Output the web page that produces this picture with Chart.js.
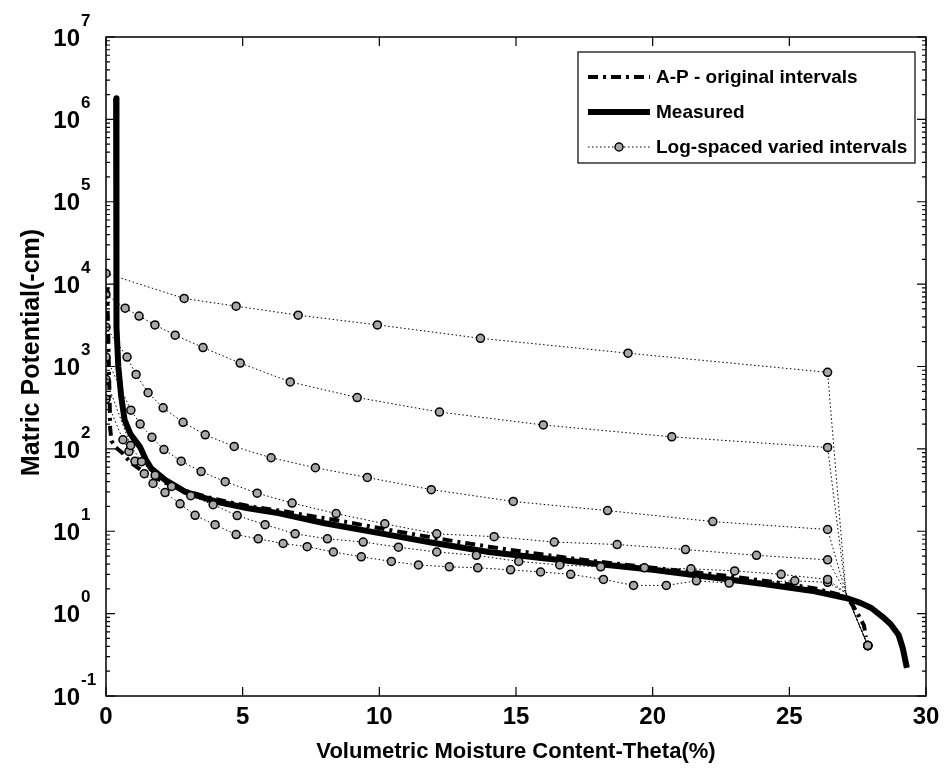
<!DOCTYPE html>
<html>
<head>
<meta charset="utf-8">
<script src="https://cdn.jsdelivr.net/npm/chart.js@4.4.1/dist/chart.umd.min.js"></script>
<style>
  html, body { margin: 0; padding: 0; background: #fff; }
  #wrap { width: 944px; height: 769px; }
</style>
</head>
<body>
<div id="wrap"><canvas id="chart" width="944" height="769"></canvas></div>
<script>
// Soil-water retention: measured curve vs. A-P predictions (log y axis).

const X_TICKS = [0, 5, 10, 15, 20, 25, 30];
const Y_EXPONENTS = [-1, 0, 1, 2, 3, 4, 5, 6, 7];

const LABEL_AP = "A-P - original intervals";
const LABEL_MEASURED = "Measured";
const LABEL_LOG = "Log-spaced varied intervals";
const X_TITLE = "Volumetric Moisture Content-Theta(%)";
const Y_TITLE = "Matric Potential(-cm)";

// [theta %, matric potential -cm]
const MEASURED = [
  [0.37, 1.8e6], [0.37, 1e5], [0.38, 1e4], [0.4, 3000], [0.45, 1000], [0.55, 450],
  [0.68, 225], [0.9, 150], [1.25, 105], [1.45, 75], [1.65, 58], [2.16, 42], [2.9, 30],
  [4.0, 23], [5.2, 19], [6.3, 16.6], [8, 12.5], [10, 9.5], [12, 7.2], [14, 5.6],
  [16, 4.7], [18, 4.0], [20, 3.4], [22, 2.8], [24, 2.3], [25.8, 1.9], [27.07, 1.55],
  [27.6, 1.35], [28, 1.17], [28.4, 0.92], [28.7, 0.75], [29.0, 0.55], [29.15, 0.38], [29.3, 0.22]
];

const AP_ORIGINAL = [
  [0.05, 9000], [0.06, 5000], [0.08, 2500], [0.1, 1200], [0.12, 600], [0.14, 300],
  [0.15, 180], [0.2, 125], [0.35, 105], [0.62, 88], [0.9, 68], [1.43, 51], [2.16, 39],
  [2.9, 31], [3.7, 26], [4.5, 22.5], [5.5, 19.5], [6.5, 17.5], [7.5, 15.3], [8.5, 13.5],
  [9.7, 11.4], [11, 9.5], [12.5, 7.8], [14, 6.5], [15.5, 5.5], [17, 4.7], [18.5, 4.1],
  [20, 3.6], [21.5, 3.2], [23, 2.8], [24.5, 2.4], [26, 2.0], [27.0, 1.65], [27.3, 1.3],
  [27.55, 0.93], [27.73, 0.72], [27.8, 0.52]
];

const LOG_1 = [[0, 13500], [2.86, 6700], [4.76, 5400], [7.03, 4200], [9.93, 3200],
  [13.7, 2200], [19.1, 1450], [26.4, 850]];
const LOG_2 = [[0, 7500], [0.7, 5100], [1.21, 4100], [1.79, 3200], [2.53, 2400],
  [3.55, 1700], [4.91, 1100], [6.74, 650], [9.19, 420], [12.2, 280], [16.0, 195],
  [20.7, 140], [26.4, 104]];
const LOG_3 = [[0, 3000], [0.77, 1300], [1.1, 800], [1.54, 480], [2.09, 315], [2.82, 210],
  [3.63, 148], [4.69, 107], [6.04, 78], [7.66, 59], [9.56, 45], [11.9, 32], [14.9, 23],
  [18.35, 17.8], [22.2, 13.1], [26.4, 10.5]];
const LOG_4 = [[0, 1300], [0.91, 295], [1.25, 200], [1.68, 138], [2.12, 98], [2.75, 71],
  [3.48, 53], [4.36, 40], [5.53, 29], [6.81, 22], [8.42, 16.4], [10.2, 12.3], [12.1, 9.3],
  [14.2, 8.6], [16.4, 7.4], [18.7, 6.9], [21.2, 6.0], [23.8, 5.1], [26.4, 4.5]];
const LOG_5 = [[0, 700], [0.9, 110], [1.3, 70], [1.8, 48], [2.4, 35], [3.1, 27], [3.92, 21],
  [4.8, 15.5], [5.82, 12.0], [6.92, 9.3], [8.1, 8.1], [9.41, 7.4], [10.7, 6.4], [12.1, 5.6],
  [13.55, 5.1], [15.1, 4.3], [16.6, 3.9], [18.1, 3.7], [19.7, 3.6], [21.4, 3.5], [23.0, 3.3],
  [24.7, 3.0], [26.4, 2.6]];
const LOG_6 = [[0, 400], [0.62, 129], [0.84, 93], [1.06, 71], [1.4, 50], [1.72, 38],
  [2.16, 29.5], [2.71, 21.5], [3.26, 15.6], [3.99, 12], [4.76, 9.1], [5.57, 8.1], [6.48, 7.1],
  [7.36, 6.5], [8.32, 5.6], [9.34, 4.9], [10.44, 4.3], [11.43, 3.9], [12.56, 3.7], [13.6, 3.6],
  [14.8, 3.4], [15.9, 3.2], [17.0, 3.0], [18.2, 2.6], [19.3, 2.2], [20.5, 2.2], [21.6, 2.5],
  [22.8, 2.35], [25.2, 2.5], [26.4, 2.4]];
// every log-spaced run closes through the same two points
const LOG_CONVERGE = [27.07, 1.78];
const LOG_TAIL = [27.87, 0.41];

const FONT = "'Liberation Sans', Arial, Helvetica, sans-serif";
const toXY = (pts) => pts.map(([x, y]) => ({ x, y }));

const logSets = [LOG_1, LOG_2, LOG_3, LOG_4, LOG_5, LOG_6].map((pts) => ({
  label: LABEL_LOG,
  data: toXY(pts.concat([LOG_CONVERGE, LOG_TAIL])),
  showLine: true,
  borderColor: "#000",
  borderWidth: 1,
  borderDash: [1.5, 2.5],
  pointRadius: (c) => (c.dataIndex === pts.length ? 0 : 4),
  pointBackgroundColor: "#a8a8a8",
  pointBorderColor: "#000",
  pointBorderWidth: 1.5,
}));

const datasets = logSets.concat([
  {
    label: LABEL_AP,
    data: toXY(AP_ORIGINAL),
    showLine: true,
    borderColor: "#000",
    borderWidth: 4,
    borderDash: [10, 5, 3, 5],
    pointRadius: 0,
  },
  {
    label: LABEL_MEASURED,
    data: toXY(MEASURED),
    showLine: true,
    borderColor: "#000",
    borderWidth: 6,
    borderJoinStyle: "round",
    pointRadius: 0,
  },
]);

// box, inward ticks, 10^n labels and the rotated y title
const axesFrame = {
  id: "axesFrame",
  afterDatasetsDraw(chart) {
    const { ctx, chartArea: a, scales: { x, y } } = chart;
    ctx.save();
    ctx.strokeStyle = "#000";
    ctx.lineWidth = 1.5;
    ctx.strokeRect(a.left, a.top, a.right - a.left, a.bottom - a.top);
    ctx.lineWidth = 1.2;
    ctx.beginPath();
    X_TICKS.forEach((v) => {
      const px = x.getPixelForValue(v);
      ctx.moveTo(px, a.bottom); ctx.lineTo(px, a.bottom - 9);
      ctx.moveTo(px, a.top); ctx.lineTo(px, a.top + 9);
    });
    Y_EXPONENTS.forEach((e) => {
      for (let m = 1; m < 10; m++) {
        const v = m * Math.pow(10, e);
        if (v > y.max * 1.0001) break;
        const py = y.getPixelForValue(v);
        const len = m === 1 ? 9 : 4;
        ctx.moveTo(a.left, py); ctx.lineTo(a.left + len, py);
        ctx.moveTo(a.right, py); ctx.lineTo(a.right - len, py);
      }
    });
    ctx.stroke();

    ctx.fillStyle = "#000";
    ctx.textBaseline = "middle";
    ctx.font = `bold 24px ${FONT}`;
    ctx.textAlign = "center";
    X_TICKS.forEach((v) => ctx.fillText(String(v), x.getPixelForValue(v), a.bottom + 21));
    Y_EXPONENTS.forEach((e) => {
      const py = y.getPixelForValue(Math.pow(10, e));
      ctx.font = `bold 24px ${FONT}`;
      ctx.textAlign = "right";
      ctx.fillText("10", a.left - 26, py + 2);
      ctx.font = `bold 17px ${FONT}`;
      ctx.textAlign = "left";
      ctx.fillText(String(e), a.left - 25, py - 16);
    });

    ctx.translate(32, (a.top + a.bottom) / 2 - 14);
    ctx.rotate(-Math.PI / 2);
    ctx.font = `bold 25px ${FONT}`;
    ctx.textAlign = "center";
    ctx.fillText(Y_TITLE, 0, 0);
    ctx.restore();
  },
};

// boxed legend in the upper right, matlab style
const boxLegend = {
  id: "boxLegend",
  afterDraw(chart) {
    const { ctx, chartArea: a } = chart;
    const order = [LABEL_AP, LABEL_MEASURED, LABEL_LOG];
    const right = a.right - 11, top = a.top + 15, w = 337, h = 111;
    const left = right - w;
    ctx.save();
    ctx.fillStyle = "#fff";
    ctx.fillRect(left, top, w, h);
    ctx.strokeStyle = "#000";
    ctx.lineWidth = 1.2;
    ctx.strokeRect(left, top, w, h);
    order.forEach((label, i) => {
      const ds = chart.data.datasets.find((d) => d.label === label);
      const cy = top + 25 + i * 35;
      const x0 = left + 10, x1 = left + 72;
      ctx.strokeStyle = ds.borderColor;
      ctx.lineWidth = ds.borderWidth;
      ctx.setLineDash(ds.borderDash || []);
      ctx.beginPath();
      ctx.moveTo(x0, cy); ctx.lineTo(x1, cy);
      ctx.stroke();
      ctx.setLineDash([]);
      if (label === LABEL_LOG) {
        ctx.beginPath();
        ctx.arc((x0 + x1) / 2, cy, 4, 0, Math.PI * 2);
        ctx.fillStyle = ds.pointBackgroundColor;
        ctx.fill();
        ctx.lineWidth = ds.pointBorderWidth;
        ctx.strokeStyle = ds.pointBorderColor;
        ctx.stroke();
      }
      ctx.fillStyle = "#000";
      ctx.font = `bold 19px ${FONT}`;
      ctx.textAlign = "left";
      ctx.textBaseline = "middle";
      ctx.fillText(label, x1 + 6, cy + 1);
    });
    ctx.restore();
  },
};

new Chart(document.getElementById("chart"), {
  type: "scatter",
  data: { datasets },
  options: {
    responsive: false,
    animation: false,
    devicePixelRatio: 1,
    layout: { padding: { top: 37, right: 18, left: 0, bottom: 0 } },
    plugins: { legend: { display: false }, tooltip: { enabled: false } },
    elements: { line: { tension: 0 } },
    scales: {
      x: {
        type: "linear",
        min: 0,
        max: 30,
        grid: { display: false },
        border: { display: false },
        ticks: { display: false },
        title: {
          display: true,
          text: X_TITLE,
          color: "#000",
          font: { family: FONT, size: 22, weight: "bold" },
          padding: { top: 0, bottom: 4 },
        },
        afterFit(s) { s.height = 73; },
      },
      y: {
        type: "logarithmic",
        min: 0.1,
        max: 1e7,
        grid: { display: false },
        border: { display: false },
        ticks: { display: false },
        afterFit(s) { s.width = 106; },
      },
    },
  },
  plugins: [axesFrame, boxLegend],
});
</script>
</body>
</html>
